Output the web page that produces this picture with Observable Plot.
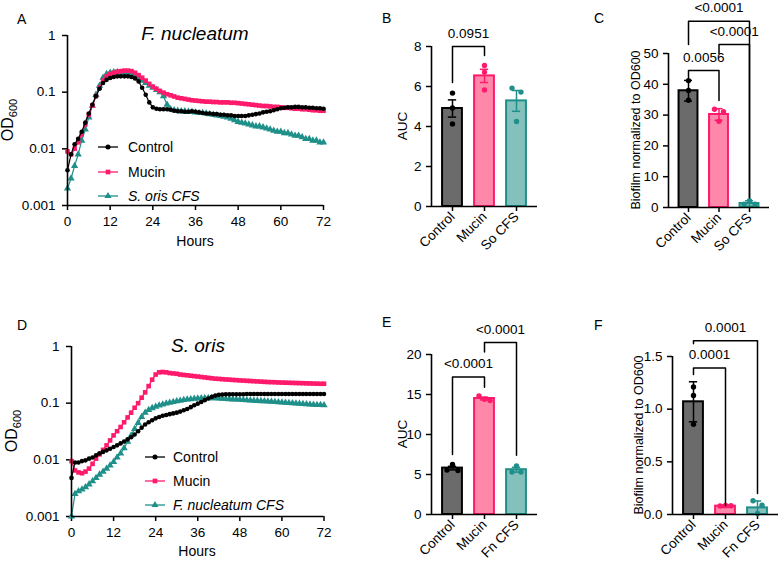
<!DOCTYPE html>
<html><head><meta charset="utf-8">
<script src="https://cdn.jsdelivr.net/npm/d3@7"></script>
<script src="https://cdn.jsdelivr.net/npm/@observablehq/plot@0.6"></script>
<style>
body{margin:0;background:#fff;}
#root{position:relative;width:778px;height:561px;overflow:hidden;font-family:Arial,"Liberation Sans",Helvetica,sans-serif;background:#fff;}
#root > svg{position:absolute;overflow:visible;}
g[aria-label$="axis tick"] path, g[aria-label$="axis tick"]{stroke-width:1.5px;}
</style></head><body><div id="root"></div>
<script>
// ---------------- data ----------------
const hours = Array.from({length: 73}, (_, i) => i);
const hourTicks = [0, 12, 24, 36, 48, 60, 72];
const logTicks = [0.001, 0.01, 0.1, 1];

// Panel A: F. nucleatum growth (OD600)
const ctrlA = [
 0.0042,0.008,0.012,0.015,0.02,0.029,0.042,0.06,0.085,0.115,0.145,0.165,
 0.178,0.185,0.19,0.19,0.19,0.19,0.185,0.175,0.155,0.12,0.09,0.066,
 0.054,0.051,0.05,0.05,0.05,0.049,0.047,0.046,0.046,0.045,0.045,0.046,
 0.045,0.044,0.043,0.042,0.042,0.041,0.041,0.04,0.04,0.039,0.039,0.038,
 0.038,0.038,0.038,0.039,0.04,0.041,0.042,0.044,0.045,0.046,0.048,0.05,
 0.052,0.053,0.054,0.054,0.055,0.055,0.054,0.054,0.053,0.053,0.052,0.052,
 0.051];
const mucA = [
 0.009,0.008,0.01,0.013,0.018,0.027,0.04,0.058,0.085,0.12,0.16,0.19,
 0.21,0.22,0.23,0.235,0.24,0.24,0.235,0.22,0.2,0.18,0.16,0.14,
 0.125,0.115,0.105,0.098,0.092,0.088,0.084,0.08,0.078,0.076,0.074,0.072,
 0.071,0.07,0.069,0.068,0.068,0.067,0.067,0.066,0.066,0.066,0.065,0.065,
 0.064,0.063,0.062,0.061,0.06,0.059,0.058,0.057,0.057,0.056,0.055,0.055,
 0.054,0.053,0.053,0.052,0.051,0.051,0.05,0.05,0.049,0.048,0.048,0.047,
 0.047];
const cfsA = [
 0.002,0.003,0.005,0.008,0.014,0.022,0.036,0.058,0.09,0.13,0.18,0.21,
 0.22,0.225,0.225,0.22,0.215,0.21,0.2,0.19,0.175,0.16,0.145,0.13,
 0.12,0.11,0.1,0.085,0.06,0.05,0.048,0.047,0.046,0.046,0.045,0.045,
 0.044,0.043,0.043,0.042,0.041,0.04,0.039,0.038,0.037,0.036,0.034,0.032,
 0.03,0.029,0.028,0.027,0.026,0.025,0.025,0.024,0.023,0.022,0.021,0.02,
 0.02,0.019,0.019,0.018,0.017,0.017,0.016,0.015,0.015,0.014,0.014,0.013,
 0.013];

// Panel D: S. oris growth (OD600)
const ctrlD = [
 0.0048,0.009,0.009,0.0095,0.0098,0.0105,0.011,0.012,0.013,0.0138,0.0147,0.0157,
 0.0168,0.018,0.0195,0.021,0.023,0.025,0.028,0.032,0.037,0.042,0.046,0.05,
 0.054,0.057,0.06,0.062,0.064,0.066,0.068,0.071,0.075,0.079,0.085,0.092,
 0.098,0.105,0.113,0.121,0.129,0.136,0.14,0.142,0.143,0.143,0.144,0.144,
 0.144,0.144,0.145,0.145,0.145,0.145,0.145,0.145,0.145,0.145,0.145,0.145,
 0.145,0.145,0.145,0.145,0.145,0.145,0.145,0.145,0.145,0.145,0.145,0.145,
 0.145];
const mucD = [
 0.0095,0.0065,0.006,0.0058,0.0062,0.007,0.0085,0.0105,0.0125,0.015,0.018,0.022,
 0.027,0.032,0.038,0.046,0.056,0.068,0.083,0.1,0.125,0.155,0.2,0.26,
 0.32,0.35,0.355,0.35,0.34,0.335,0.33,0.32,0.315,0.31,0.305,0.3,
 0.295,0.29,0.285,0.28,0.275,0.27,0.268,0.265,0.262,0.26,0.257,0.255,
 0.252,0.25,0.248,0.246,0.244,0.242,0.24,0.238,0.236,0.235,0.234,0.232,
 0.231,0.23,0.229,0.228,0.227,0.226,0.225,0.224,0.223,0.222,0.221,0.22,
 0.22];
const cfsD = [
 0.001,0.0025,0.0028,0.003,0.0033,0.0037,0.0042,0.0048,0.0055,0.0062,0.007,0.008,
 0.0092,0.011,0.013,0.016,0.021,0.027,0.035,0.045,0.057,0.068,0.076,0.082,
 0.087,0.091,0.095,0.099,0.102,0.105,0.108,0.111,0.114,0.116,0.118,0.12,
 0.121,0.122,0.123,0.123,0.123,0.122,0.121,0.12,0.119,0.118,0.117,0.116,
 0.115,0.114,0.113,0.112,0.111,0.11,0.109,0.108,0.107,0.106,0.105,0.104,
 0.103,0.102,0.101,0.1,0.099,0.098,0.097,0.096,0.095,0.094,0.093,0.093,
 0.092];

// Bar panels
const catsFn = ["Control", "Mucin", "So CFS"];
const catsSo = ["Control", "Mucin", "Fn CFS"];
// B: AUC, F. nucleatum (mean ± SEM)
const aucFnMean = [4.9, 6.53, 5.28];
const aucFnErr  = [0.43, 0.33, 0.52];
const aucFnReps = [[5.67, 4.93, 4.13], [7.05, 6.72, 5.83], [5.92, 5.72, 4.25]];
// C: biofilm / OD600, F. nucleatum (mean ± SD)
const bioFnMean = [37.9, 30.2, 1.3];
const bioFnErr  = [3.35, 1.9, 0.9];
const bioFnReps = [[41.2, 38.0, 34.8], [31.9, 31.1, 28.0], [1.1, 2.2, 1.1]];
// E: AUC, S. oris
const aucSoMean = [5.8, 14.5, 5.6];
const aucSoErr  = [0.22, 0.17, 0.3];
const aucSoReps = [[5.55, 6.25, 5.5], [14.83, 14.4, 14.25], [5.3, 6.08, 5.3]];
// F: biofilm / OD600, S. oris
const bioSoMean = [1.07, 0.079, 0.063];
const bioSoErr  = [0.19, 0.012, 0.065];
const bioSoReps = [[1.21, 1.13, 0.856], [0.08, 0.085, 0.083], [0.13, 0.088, 0.01]];

// significance brackets: left group, right group, bar level, leg ends, p label
const bracketsB = [{a: 0, b: 1, y: 8.0, ya: 6.2, yb: 7.55, label: "0.0951"}];
const bracketsC = [
  {a: 0, b: 1, y: 44.5, ya: 42.2, yb: 34.7, label: "0.0056"},
  {a: 1, b: 2, y: 52.9, ya: 50.0, yb: 3.2, label: "<0.0001"},
  {a: 0, b: 2, y: 60.5, ya: 52.9, yb: 3.2, label: "<0.0001"}];
const bracketsE = [
  {a: 0, b: 1, y: 17.2, ya: 7.5, yb: 15.9, label: "<0.0001"},
  {a: 1, b: 2, y: 21.5, ya: 20.3, yb: 7.4, label: "<0.0001"}];
const bracketsF = [
  {a: 0, b: 1, y: 1.39, ya: 1.33, yb: 0.085, label: "0.0001"},
  {a: 0, b: 2, y: 1.65, ya: 1.62, yb: 0.2, label: "0.0001"}];

// ---------------- style ----------------
const FONT = "Arial, 'Liberation Sans', Helvetica, sans-serif";
const C_CTRL = "#000000", C_MUC = "#ff1a6c", C_CFS = "#1f8f89";
const lineColors = [C_CTRL, C_MUC, C_CFS];
const barFills = ["#6b6b6b", "#ff88aa", "#84c1bd"];
const root = document.getElementById("root");

function place(svg, left, top) {
  svg.style.left = left + "px";
  svg.style.top = top + "px";
  root.appendChild(svg);
}

function curvePanel(o) {
  const series = [
    {vals: o.cfs, color: C_CFS, symbol: "triangle", r: 2.7},
    {vals: o.muc, color: C_MUC, symbol: "square", r: 2.6},
    {vals: o.ctrl, color: C_CTRL, symbol: "circle", r: 2.3}];
  const marks = [];
  for (const s of series) {
    const d = hours.map((h, i) => ({h, v: s.vals[i]}));
    marks.push(Plot.line(d, {x: "h", y: "v", stroke: s.color, strokeWidth: 1.2}));
    marks.push(Plot.dot(d, {x: "h", y: "v", fill: s.color, symbol: s.symbol, r: s.r}));
  }
  marks.push(Plot.ruleX([0], {stroke: "#000", strokeWidth: 1.6}));
  marks.push(Plot.ruleY([0.001], {stroke: "#000", strokeWidth: 1.6}));
  const p = Plot.plot({
    width: o.width, height: o.height,
    marginLeft: o.ml, marginRight: o.mr, marginTop: o.mt, marginBottom: o.mb,
    style: {fontFamily: FONT, fontSize: "13.5px", color: "#000", background: "transparent", overflow: "visible"},
    x: {domain: [0, 72], ticks: hourTicks, tickSize: 5, tickPadding: 6, label: null},
    y: {type: "log", domain: [0.001, 1], ticks: logTicks, tickFormat: d => String(d), tickSize: 5, tickPadding: 7, label: null},
    marks
  });
  place(p, o.left, o.top);
}

function spread(reps, pxPerUnit) {
  const out = [];
  reps.forEach((vals, g) => {
    const idx = vals.map((v, i) => i).sort((i, j) => vals[i] - vals[j]);
    const clusters = [];
    let cur = [idx[0]];
    for (let k = 1; k < idx.length; k++) {
      if ((vals[idx[k]] - vals[idx[k - 1]]) * pxPerUnit < 6) cur.push(idx[k]);
      else { clusters.push(cur); cur = [idx[k]]; }
    }
    clusters.push(cur);
    for (const c of clusters) {
      c.sort((a, b) => a - b);
      const sp = c.length === 2 ? 9 : 5.5;
      c.forEach((i, k) => out.push({g, v: vals[i], off: (k - (c.length - 1) / 2) * sp}));
    }
  });
  return out;
}

function barPanel(o) {
  const xDom = [-0.656, 2.656];
  const frameW = o.width - o.ml - o.mr, frameH = o.height - o.mt - o.mb;
  const stepPx = frameW / (xDom[1] - xDom[0]);
  const pxY = frameH / o.yMax;
  const bars = o.cats.map((c, i) => ({i, m: o.mean[i], lo: Math.max(0, o.mean[i] - o.err[i]), hi: o.mean[i] + o.err[i],
    fill: barFills[i], stroke: lineColors[i]}));
  const dots = spread(o.reps, pxY).map(d => ({x: d.g + d.off / stepPx, v: d.v, color: lineColors[d.g]}));
  const bl = o.brackets.flatMap((b, k) => [
    {k, x: b.a, y: b.ya}, {k, x: b.a, y: b.y}, {k, x: b.b, y: b.y}, {k, x: b.b, y: b.yb}]);
  const labels = o.brackets.map(b => ({x: (b.a + b.b) / 2, y: b.y, label: b.label}));
  const marks = [
    Plot.rectY(bars, {x1: d => d.i - 0.31, x2: d => d.i + 0.31, y1: 0, y2: "m", fill: "fill", stroke: "stroke", strokeWidth: 2}),
    Plot.ruleX(bars, {x: "i", y1: "lo", y2: "hi", stroke: "stroke", strokeWidth: 1.5}),
    Plot.ruleY(bars, {y: "hi", x1: d => d.i - 0.13, x2: d => d.i + 0.13, stroke: "stroke", strokeWidth: 1.5}),
    Plot.ruleY(bars.filter(d => d.lo > 0), {y: "lo", x1: d => d.i - 0.13, x2: d => d.i + 0.13, stroke: "stroke", strokeWidth: 1.5}),
    Plot.dot(dots, {x: "x", y: "v", fill: "color", r: 2.7}),
    Plot.line(bl, {x: "x", y: "y", z: "k", stroke: "#000", strokeWidth: 1.5}),
    Plot.text(labels, {x: "x", y: "y", text: "label", dy: -13, fontSize: 13.5}),
    Plot.ruleX([xDom[0]], {y1: 0, y2: o.yMax, stroke: "#000", strokeWidth: 1.6}),
    Plot.ruleY([0], {stroke: "#000", strokeWidth: 1.6})
  ];
  const p = Plot.plot({
    width: o.width, height: o.height,
    marginLeft: o.ml, marginRight: o.mr, marginTop: o.mt, marginBottom: o.mb,
    style: {fontFamily: FONT, fontSize: "13.5px", color: "#000", background: "transparent", overflow: "visible"},
    color: {type: "identity"},
    x: {domain: xDom, ticks: [0, 1, 2], tickFormat: i => o.cats[i], tickRotate: -45, tickSize: 5, tickPadding: 3, label: null},
    y: {domain: [0, o.yMax], ticks: o.yTicks, tickFormat: o.fmt, tickSize: 5, tickPadding: 5, label: null},
    marks
  });
  place(p, o.left, o.top);
}

curvePanel({left: 0, top: 0, width: 335, height: 250, ml: 67, mr: 12, mt: 35, mb: 45, ctrl: ctrlA, muc: mucA, cfs: cfsA});
curvePanel({left: 0, top: 280, width: 335, height: 270, ml: 71, mr: 11.5, mt: 66, mb: 34, ctrl: ctrlD, muc: mucD, cfs: cfsD});

barPanel({left: 380, top: 0, width: 170, height: 250, ml: 51, mr: 13, mt: 46, mb: 44,
  cats: catsFn, mean: aucFnMean, err: aucFnErr, reps: aucFnReps, yMax: 8, yTicks: [0, 2, 4, 6, 8], fmt: d => String(d), brackets: bracketsB});
barPanel({left: 560, top: 0, width: 218, height: 250, ml: 108, mr: 9, mt: 53, mb: 43,
  cats: catsFn, mean: bioFnMean, err: bioFnErr, reps: bioFnReps, yMax: 50, yTicks: [0, 10, 20, 30, 40, 50], fmt: d => String(d), brackets: bracketsC});
barPanel({left: 380, top: 280, width: 170, height: 270, ml: 51, mr: 13, mt: 74, mb: 36,
  cats: catsSo, mean: aucSoMean, err: aucSoErr, reps: aucSoReps, yMax: 20, yTicks: [0, 5, 10, 15, 20], fmt: d => String(d), brackets: bracketsE});
barPanel({left: 560, top: 280, width: 218, height: 270, ml: 112, mr: 0, mt: 76, mb: 36,
  cats: catsSo, mean: bioSoMean, err: bioSoErr, reps: bioSoReps, yMax: 1.5, yTicks: [0, 0.5, 1, 1.5], fmt: d3.format(".1f"), brackets: bracketsF});

// ---------------- overlay text ----------------
const ov = d3.select(root).append("svg").attr("width", 778).attr("height", 561)
  .style("left", "0px").style("top", "0px").style("font-family", FONT).attr("fill", "#000");

function txt(x, y, s, size, opts = {}) {
  const t = ov.append("text").attr("x", x).attr("y", y).attr("font-size", size).text(s);
  if (opts.anchor) t.attr("text-anchor", opts.anchor);
  if (opts.italic) t.attr("font-style", "italic");
  return t;
}
function vtxt(x, y, size) { // rotated axis title
  return ov.append("text").attr("transform", `translate(${x},${y}) rotate(-90)`)
    .attr("text-anchor", "middle").attr("font-size", size);
}
// panel letters
txt(17, 24, "A", 14); txt(382, 23, "B", 14); txt(594, 23, "C", 14);
txt(17, 330, "D", 14); txt(382, 327, "E", 14); txt(594, 330, "F", 14);
// titles
txt(195, 40, "F. nucleatum", 19, {anchor: "middle", italic: true});
txt(198, 352, "S. oris", 19, {anchor: "middle", italic: true});
// Hours
txt(195, 246, "Hours", 14, {anchor: "middle"});
txt(197, 556, "Hours", 14, {anchor: "middle"});
// OD600
{ const t = vtxt(13, 120, 16); t.append("tspan").text("OD"); t.append("tspan").attr("font-size", 11).attr("dy", 4).text("600"); }
{ const t = vtxt(17, 431, 16); t.append("tspan").text("OD"); t.append("tspan").attr("font-size", 11).attr("dy", 4).text("600"); }
vtxt(407, 126, 13.5).text("AUC");
vtxt(407, 434, 13.5).text("AUC");
vtxt(640, 130, 12.5).text("Biofilm normalized to OD600");
vtxt(643, 435, 12.5).text("Biofilm normalized to OD600");

// legends
function legend(x0, tx, rows) {
  rows.forEach(r => {
    ov.append("line").attr("x1", x0).attr("x2", x0 + 20).attr("y1", r.y).attr("y2", r.y)
      .attr("stroke", r.color).attr("stroke-width", 1.3);
    const sym = {circle: d3.symbolCircle, square: d3.symbolSquare, triangle: d3.symbolTriangle}[r.symbol];
    ov.append("path").attr("d", d3.symbol(sym, r.area)()).attr("transform", `translate(${x0 + 10},${r.y})`).attr("fill", r.color);
    txt(tx, r.y + 5, r.text, 14, {italic: r.italic});
  });
}
legend(98, 128, [
  {y: 147, color: C_CTRL, symbol: "circle", area: 20, text: "Control"},
  {y: 172, color: C_MUC, symbol: "square", area: 22, text: "Mucin"},
  {y: 196, color: C_CFS, symbol: "triangle", area: 22, text: "S. oris CFS", italic: true}]);
legend(145, 173, [
  {y: 457, color: C_CTRL, symbol: "circle", area: 20, text: "Control"},
  {y: 481, color: C_MUC, symbol: "square", area: 22, text: "Mucin"},
  {y: 505, color: C_CFS, symbol: "triangle", area: 22, text: "F. nucleatum CFS", italic: true}]);
</script></body></html>
